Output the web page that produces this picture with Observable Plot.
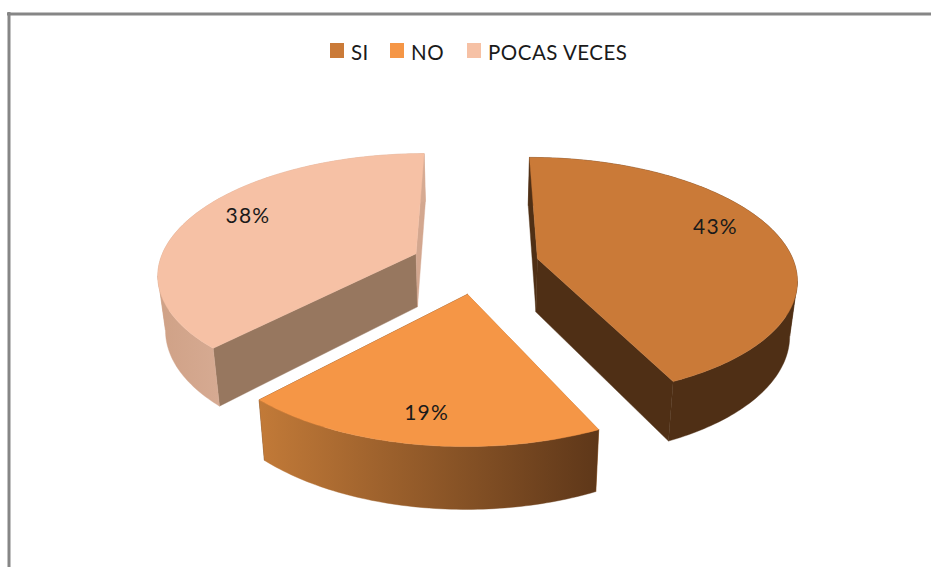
<!DOCTYPE html>
<html>
<head>
<meta charset="utf-8">
<script src="https://cdn.jsdelivr.net/npm/d3@7"></script>
<script src="https://cdn.jsdelivr.net/npm/@observablehq/plot@0.6"></script>
<style>
  html, body { margin: 0; padding: 0; background: #fff; }
  #chart { position: relative; width: 931px; height: 567px; overflow: hidden; }
  #legend { position: absolute; left: 0; top: 40px; width: 931px; height: 24px;
            font: 400 20.5px Lato, sans-serif; color: #1a1a1a; line-height: 24px; letter-spacing: 0.5px; }
  #legend .item { position: absolute; top: 0; display: flex; align-items: center; height: 24px; }
  #legend i { display: block; width: 14px; height: 15px; margin-right: 7px; position: relative; top: -1.5px; }
  svg { display: block; }
  svg text { letter-spacing: 1.2px; }
</style>
</head>
<body>
<div id="chart"></div>
<script>
// Chart values
const categories = ["SI", "NO", "POCAS VECES"];
const values = [43, 19, 38];
const labels = ["43%", "19%", "38%"];
// Label placement inside each slice (degrees clockwise from the back, share of radius)
const labelAngles = [69, 189, 296];
const labelRadii = [0.79, 0.82, 0.79];
// How far each slice is pulled out of the pie
const explodes = [0.238, 0.238, 0.258];
// Legend item left edges
const legendLefts = [330, 390, 467];

// Colours
const topColors = ["#CA7A38", "#F59646", "#F6C1A5"];
const startWall = ["#4F2F15", "#C27A38", "#97775F"];
const endWall = ["#4F2F15", "#5E3719", "#D3A78F"];
const rimStart = ["#4F2F15", "#C27A38", "#CFA186"];
const rimEnd = ["#4F2F15", "#5E3719", "#D6AA92"];
const frameColor = "#868686";

// 3D view of the pie: unit radius, exploded slices
const W = 931, H = 567;
const view = {cx: 477, scaleX: 260, horizon: -507, scaleY: 771.5, dist: 6.43, radius: 0.99};
const rad = d => d * Math.PI / 180;

function ground(i, sliceMid, deg, r) {
  const e = explodes[i];
  const X = e * Math.sin(rad(sliceMid)) + r * view.radius * Math.sin(rad(deg));
  const Y = -e * Math.cos(rad(sliceMid)) - r * view.radius * Math.cos(rad(deg));
  const w = 1 - Y / view.dist;
  return [view.cx + view.scaleX * X / w, view.horizon + view.scaleY / w];
}
// Underside of the slab: verticals converge downward and thicken toward the viewer
const drop = ([x, y]) => [view.cx + (x - view.cx) * 0.976, y + 53 + 0.051 * (y - 253)];

const total = d3.sum(values);
const cum = d3.cumsum(values);
const slices = values.map((v, i) => ({
  i, a0: (cum[i] - v) / total * 360, a1: cum[i] / total * 360,
  mid: (cum[i] - v / 2) / total * 360
}));

// Build polygons, far slices first
const polys = [];
let faceId = 0;
function addPoly(pts, fill) {
  const id = faceId++;
  [...pts, pts[0]].forEach(p => polys.push({id, x: p[0], y: p[1], fill}));
}
const gradients = [];
for (const s of [slices[2], slices[0], slices[1]]) {
  const apex = ground(s.i, s.mid, 0, 0);
  const arc = d3.range(s.a0, s.a1, 1).concat([s.a1]).map(a => ground(s.i, s.mid, a, 1));
  const first = arc[0], last = arc[arc.length - 1];
  addPoly([apex, first, drop(first), drop(apex)], startWall[s.i]);
  addPoly([apex, last, drop(last), drop(apex)], endWall[s.i]);
  const xs = arc.map(p => p[0]);
  const x1 = d3.min(xs);
  gradients.push({id: "rim" + s.i, x1, x2: s.i === 1 ? d3.max(xs) : x1 + 60, from: rimStart[s.i], to: rimEnd[s.i]});
  // The rim band folds at its left and right extremes: split it there so it fills solidly
  const cuts = [...new Set([0, d3.minIndex(xs), d3.maxIndex(xs), arc.length - 1])].sort((a, b) => a - b);
  for (let k = 0; k + 1 < cuts.length; k++) {
    const part = arc.slice(cuts[k], cuts[k + 1] + 1);
    addPoly([...part, ...part.map(drop).reverse()], "url(#rim" + s.i + ")");
  }
  addPoly([apex, ...arc], topColors[s.i]);
}

const labelRows = slices.map(s => {
  const [x, y] = ground(s.i, s.mid, labelAngles[s.i], labelRadii[s.i]);
  return {x, y, text: labels[s.i]};
});

// Horizontal shading of the slab rims, as SVG gradients for the marks to fill with
function gradientDefs() {
  const NS = "http://www.w3.org/2000/svg";
  const defs = document.createElementNS(NS, "defs");
  for (const g of gradients) {
    const lg = document.createElementNS(NS, "linearGradient");
    lg.setAttribute("id", g.id);
    lg.setAttribute("gradientUnits", "userSpaceOnUse");
    lg.setAttribute("x1", g.x1); lg.setAttribute("x2", g.x2);
    lg.setAttribute("y1", 0); lg.setAttribute("y2", 0);
    [[0, g.from], [1, g.to]].forEach(([o, c]) => {
      const st = document.createElementNS(NS, "stop");
      st.setAttribute("offset", o); st.setAttribute("stop-color", c);
      lg.appendChild(st);
    });
    defs.appendChild(lg);
  }
  return defs;
}

const plot = Plot.plot({
  width: W, height: H, margin: 0,
  x: {domain: [0, W], range: [0, W], axis: null},
  y: {domain: [0, H], range: [0, H], axis: null},
  color: {type: "identity"},
  style: {background: "#fff"},
  marks: [
    gradientDefs,
    Plot.ruleY([13.5], {x1: 7, x2: W, stroke: frameColor, strokeWidth: 3}),
    Plot.ruleX([8.5], {y1: 12, y2: H, stroke: frameColor, strokeWidth: 3}),
    Plot.line(polys, {x: "x", y: "y", z: "id", fill: "fill", stroke: "fill", strokeWidth: 0.4, curve: "linear"}),
    Plot.text(labelRows, {x: "x", y: "y", text: "text", fill: "#1a1a1a", fontSize: 21, fontWeight: 400,
      fontFamily: "Lato, sans-serif", textAnchor: "middle", lineAnchor: "middle"})
  ]
});

const chart = document.getElementById("chart");
chart.appendChild(plot);

const legend = document.createElement("div");
legend.id = "legend";
categories.forEach((c, i) => {
  const item = document.createElement("div");
  item.className = "item";
  item.style.left = legendLefts[i] + "px";
  const sw = document.createElement("i");
  sw.style.background = topColors[i];
  const t = document.createElement("span");
  t.textContent = c;
  item.append(sw, t);
  legend.appendChild(item);
});
chart.appendChild(legend);
</script>
</body>
</html>
